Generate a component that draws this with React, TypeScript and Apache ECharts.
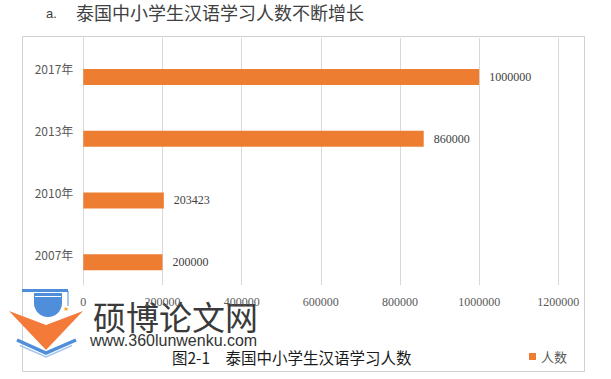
import React, { useEffect, useRef } from "react";
import * as echarts from "echarts";

const categories = ["2007年", "2010年", "2013年", "2017年"];
const students = [200000, 203423, 860000, 1000000];
const seriesName = "人数";
const axisMin = 0;
const axisMax = 1200000;
const axisStep = 200000;
const titlePrefix = "a.";
const titleText = "泰国中小学生汉语学习人数不断增长";
const captionText = "图2-1　泰国中小学生汉语学习人数";
const watermarkName = "硕博论文网";
const watermarkUrl = "www.360lunwenku.com";

const ORANGE = "#ED7D31";
const LOGO_BLUE = "#4f8edb";
const LOGO_ORANGE = "#f47a3a";

export default function App() {
  const ref = useRef<HTMLDivElement>(null);
  useEffect(() => {
    document.body.style.margin = "0";
    const chart = echarts.init(ref.current!, null, { renderer: "svg" });
    chart.setOption({
      animation: false,
      backgroundColor: "#ffffff",
      grid: { left: 83.3, right: 52.7, top: 38, bottom: 94, containLabel: false },
      legend: {
        data: [seriesName],
        left: 529,
        top: 350,
        padding: 0,
        icon: "rect",
        itemWidth: 7,
        itemHeight: 7,
        itemGap: 10,
        textStyle: { fontSize: 13, color: "#595959", fontFamily: "Noto Sans CJK SC" },
      },
      xAxis: {
        type: "value",
        min: axisMin,
        max: axisMax,
        interval: axisStep,
        axisLine: { show: false },
        axisTick: { show: false },
        splitLine: { show: true, lineStyle: { color: "#d9d9d9", width: 1 } },
        axisLabel: {
          fontFamily: "Liberation Serif",
          fontSize: 12,
          color: "#595959",
          margin: 11,
          formatter: (v: number) => String(v),
        },
      },
      yAxis: {
        type: "category",
        data: categories,
        axisLine: { show: true, lineStyle: { color: "#d9d9d9" } },
        axisTick: { show: false },
        axisLabel: { fontFamily: "Noto Sans CJK SC", fontSize: 12, color: "#595959", margin: 10 },
      },
      series: [
        {
          name: "spacer",
          type: "bar",
          data: categories.map(() => null),
          barWidth: 16,
          barGap: "0%",
          silent: true,
          itemStyle: { color: "transparent" },
        },
        {
          name: seriesName,
          type: "bar",
          data: students,
          barWidth: 16,
          barGap: "0%",
          itemStyle: { color: ORANGE },
          label: {
            show: true,
            position: "right",
            distance: 10,
            fontFamily: "Liberation Serif",
            fontSize: 12,
            color: "#404040",
            formatter: (p: any) => String(p.value),
          },
        },
      ],
      graphic: [
        {
          type: "rect",
          z: -10,
          silent: true,
          shape: { x: 22.5, y: 36.5, width: 562, height: 335 },
          style: { fill: "transparent", stroke: "#d0d0d0", lineWidth: 1 },
        },
        {
          type: "text",
          x: 46,
          y: 13,
          style: { text: titlePrefix, fontSize: 13, fontFamily: "Liberation Sans", fill: "#404040", verticalAlign: "middle" },
        },
        {
          type: "text",
          x: 76,
          y: 12,
          style: { text: titleText, fontSize: 18, fontFamily: "Noto Sans CJK SC", fill: "#404040", verticalAlign: "middle" },
        },
        {
          type: "text",
          x: 172,
          y: 357,
          style: { text: captionText, fontSize: 15.5, fontFamily: "Noto Sans CJK SC", fill: "#1a1a1a", verticalAlign: "middle" },
        },
        {
          type: "group",
          z: 100,
          children: [
            { type: "polygon", shape: { points: [[9, 311], [46, 325], [83, 311], [46, 350]] }, style: { fill: LOGO_ORANGE } },
            { type: "polyline", shape: { points: [[17, 340], [46, 353], [76, 340]] }, style: { stroke: LOGO_BLUE, lineWidth: 3.5, fill: "none" } },
            { type: "polyline", shape: { points: [[20, 345.5], [46, 357], [72, 345.5]] }, style: { stroke: "#a6c6ef", lineWidth: 1.5, fill: "none" } },
            { type: "rect", shape: { x: 22, y: 289, width: 46, height: 3 }, style: { fill: LOGO_BLUE } },
            { type: "rect", shape: { x: 34, y: 293, width: 28, height: 11 }, style: { fill: LOGO_BLUE } },
            { type: "sector", shape: { cx: 48, cy: 303, r: 14, r0: 0, startAngle: 0, endAngle: Math.PI, clockwise: true }, style: { fill: LOGO_BLUE } },
            { type: "rect", shape: { x: 35, y: 296, width: 26, height: 1 }, style: { fill: "#ffffff" } },
            { type: "line", shape: { x1: 68, y1: 291, x2: 68, y2: 306 }, style: { stroke: LOGO_BLUE, lineWidth: 1 } },
            {
              type: "polygon",
              shape: { points: [[66, 306.5], [66.7, 308.3], [68.5, 308.3], [67.1, 309.4], [67.6, 311.2], [66, 310.1], [64.4, 311.2], [64.9, 309.4], [63.5, 308.3], [65.3, 308.3]] },
              style: { fill: "#f5a623" },
            },
            {
              type: "text",
              x: 93,
              y: 316,
              style: { text: watermarkName, fontSize: 33, fontFamily: "Noto Sans CJK SC", fill: "#3a3a3a", verticalAlign: "middle" },
            },
            {
              type: "text",
              x: 90,
              y: 340,
              style: { text: watermarkUrl, fontSize: 16, fontFamily: "Liberation Sans", fill: "#333333", verticalAlign: "middle" },
            },
          ],
        },
      ],
    });
    return () => chart.dispose();
  }, []);
  return <div ref={ref} style={{ width: 611, height: 379 }} />;
}
